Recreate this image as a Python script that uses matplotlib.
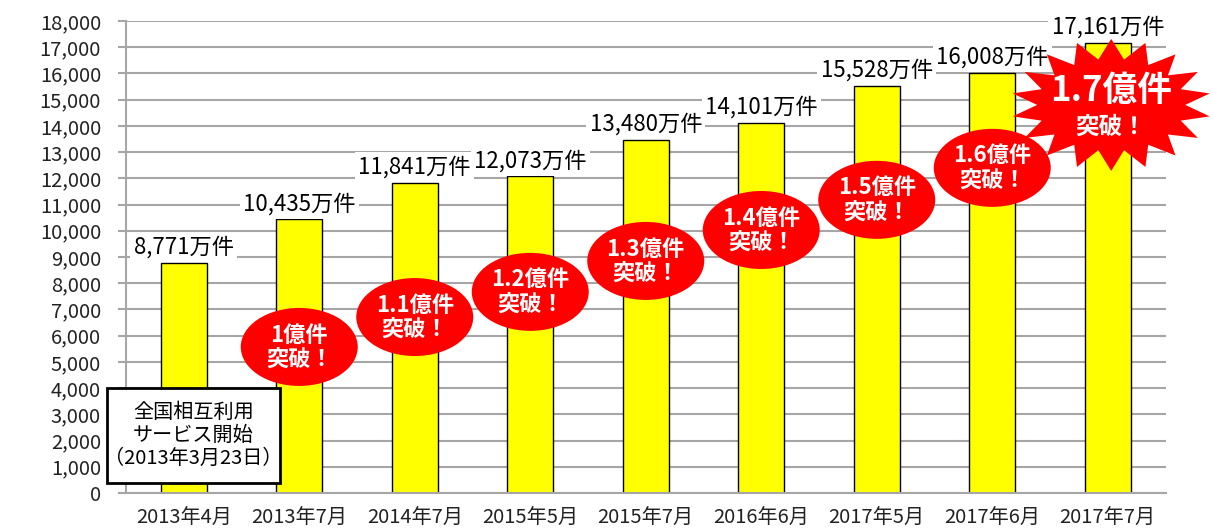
import matplotlib.pyplot as plt
import numpy as np
from matplotlib.patches import Ellipse, Polygon, Rectangle

plt.rcParams["font.family"] = ["Noto Sans CJK JP", "DejaVu Sans"]

months = ["2013年4月", "2013年7月", "2014年7月", "2015年5月", "2015年7月",
          "2016年6月", "2017年5月", "2017年6月", "2017年7月"]
counts = [8771, 10435, 11841, 12073, 13480, 14101, 15528, 16008, 17161]

# milestone badges: label, bar index, badge centre height
badge_text = ["1億件", "1.1億件", "1.2億件", "1.3億件", "1.4億件", "1.5億件", "1.6億件"]
badge_x = [1, 2, 3, 4, 5, 6, 7]
badge_y = [5570, 6710, 7670, 8850, 10030, 11180, 12400]
burst_text = "1.7億件"
burst_x, burst_y = 8.03, 14800

GRID = "#a6a6a6"
RED = "#ff0000"

fig = plt.figure(figsize=(12.12, 5.3), dpi=100)
ax = fig.add_axes([126 / 1212, 37 / 530, (1165.5 - 126) / 1212, (493 - 21) / 530])

x = np.arange(len(months))
ax.bar(x, counts, width=0.4, color="#ffff00", edgecolor="black", linewidth=1.0, zorder=2)

ax.set_xlim(-0.5, len(months) - 0.5)
ax.set_ylim(0, 18000)
ax.set_yticks(np.arange(0, 18001, 1000))
ax.set_yticklabels([f"{v:,}" for v in range(0, 18001, 1000)])
ax.set_xticks(x)
ax.set_xticklabels(months)
ax.tick_params(axis="y", length=6, width=1.5, color=GRID, pad=12, labelsize=14.5,
               labelcolor="#222222")
ax.tick_params(axis="x", length=0, pad=11, labelsize=14.5, labelcolor="#222222")
ax.grid(axis="y", color=GRID, linewidth=1.5, zorder=0)
ax.set_axisbelow(True)
for side in ("top", "right"):
    ax.spines[side].set_visible(False)
for side in ("left", "bottom"):
    ax.spines[side].set_color(GRID)
    ax.spines[side].set_linewidth(1.5)

# data units per pixel, used to size the badges in screen pixels
PX_X = 1 / 115.5
PX_Y = 18000 / (493 - 21)

for xi, v in zip(x, counts):
    ax.annotate(f"{v:,}万件", (xi, v), xytext=(0, 3), textcoords="offset points",
                ha="center", va="bottom", fontsize=16, color="black", zorder=4,
                bbox=dict(boxstyle="square,pad=0.15", fc="white", ec="none"),
                annotation_clip=False)

for txt, bx, by in zip(badge_text, badge_x, badge_y):
    ax.add_patch(Ellipse((bx, by), 117 * PX_X, 78 * PX_Y, fc=RED, ec="none", zorder=5))
    ax.text(bx, by, f"{txt}\n突破！", ha="center", va="center", color="white",
            fontsize=16, fontweight="bold", linespacing=1.05, zorder=6)

# starburst for the latest milestone
n = 18
ang = np.linspace(0, 2 * np.pi, 2 * n, endpoint=False) + np.pi / 2
rx = np.where(np.arange(2 * n) % 2 == 0, 100, 74)
ry = np.where(np.arange(2 * n) % 2 == 0, 66, 46)
pts = np.column_stack([burst_x + rx * np.cos(ang) * PX_X, burst_y + ry * np.sin(ang) * PX_Y])
ax.add_patch(Polygon(pts, closed=True, fc=RED, ec="none", zorder=5, clip_on=False))
ax.text(burst_x, burst_y + 14 * PX_Y, burst_text, ha="center", va="center", color="white",
        fontsize=25, fontweight="bold", zorder=6)
ax.text(burst_x, burst_y - 22 * PX_Y, "突破！", ha="center", va="center", color="white",
        fontsize=17, fontweight="bold", zorder=6)

# service start note
x0, x1 = (107 - 184) * PX_X, (280 - 184) * PX_X
y0, y1 = (493 - 483) * PX_Y, (493 - 388) * PX_Y
ax.add_patch(Rectangle((x0, y0), x1 - x0, y1 - y0, fc="white", ec="black", lw=2,
                       zorder=7, clip_on=False))
ax.text((x0 + x1) / 2, (y0 + y1) / 2, "全国相互利用\nサービス開始\n（2013年3月23日）",
        ha="center", va="center", fontsize=14.5, linespacing=1.15, zorder=8)

fig.savefig("out.png", dpi=100)
